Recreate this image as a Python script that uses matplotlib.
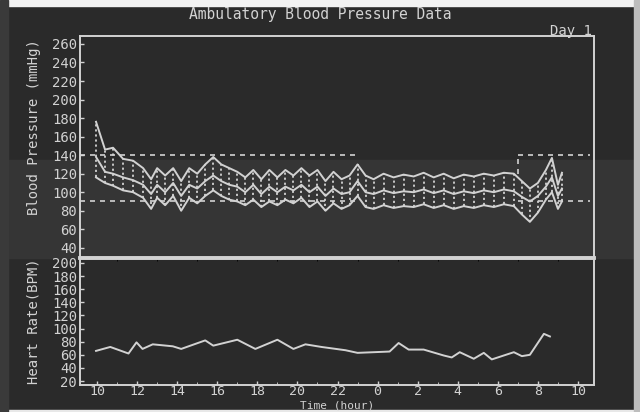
import matplotlib
matplotlib.use("Agg")
import matplotlib.pyplot as plt
from matplotlib.patches import Rectangle

# ---- data ----
bp_time = [9.95, 10.4, 10.8, 11.3, 11.8, 12.3, 12.7, 13.0, 13.4, 13.8, 14.2, 14.6, 15.0,
           15.4, 15.8, 16.2, 16.6, 17.0, 17.4, 17.8, 18.2, 18.6, 19.0, 19.4, 19.8, 20.2,
           20.6, 21.0, 21.4, 21.8, 22.2, 22.6, 23.0, 23.4, 23.8, 24.3, 24.8, 25.3, 25.8,
           26.3, 26.8, 27.3, 27.8, 28.3, 28.8, 29.3, 29.8, 30.3, 30.8, 31.2, 31.6, 32.0,
           32.4, 32.7, 33.0, 33.2]
systolic = [176, 146, 148, 136, 134, 126, 114, 126, 118, 126, 112, 126, 120,
            130, 138, 130, 126, 122, 116, 124, 114, 124, 116, 124, 118, 126,
            118, 124, 112, 122, 114, 118, 130, 118, 114, 120, 116, 119, 117,
            121, 116, 120, 115, 119, 117, 120, 118, 121, 120, 112, 104, 110,
            124, 137, 108, 121]
mean_bp = [138, 122, 120, 116, 113, 108, 98, 108, 100, 110, 96, 108, 104,
           112, 118, 112, 108, 106, 100, 108, 98, 106, 100, 106, 102, 108,
           100, 106, 96, 104, 98, 100, 112, 100, 98, 102, 99, 101, 100,
           103, 99, 102, 98, 101, 99, 102, 100, 103, 101, 95, 90, 96,
           106, 116, 96, 104]
diastolic = [116, 110, 107, 102, 100, 94, 82, 94, 86, 96, 80, 94, 88,
             96, 102, 96, 92, 90, 86, 92, 84, 90, 86, 92, 88, 94,
             84, 90, 80, 88, 82, 86, 96, 84, 82, 86, 83, 85, 84,
             87, 83, 86, 82, 85, 83, 86, 84, 87, 85, 76, 68, 78,
             92, 100, 82, 90]

hr_time = [9.95, 10.66, 11.57, 11.97, 12.27, 12.78, 13.78, 14.2, 15.4, 15.8, 17.0,
           17.9, 19.0, 19.8, 20.4, 21.2, 22.4, 23.0, 23.8, 24.6, 25.05, 25.55,
           26.3, 27.3, 27.7, 28.1, 28.8, 29.3, 29.7, 30.3, 30.8, 31.2, 31.6,
           32.3, 32.6]
heart_rate = [66, 72, 62, 79, 69, 76, 73, 69, 82, 74, 83, 69, 83, 69, 76, 72, 67,
              63, 64, 65, 78, 68, 68, 59, 56, 64, 54, 63, 53, 59, 64, 58, 60,
              92, 88]

x_ticks = [10, 12, 14, 16, 18, 20, 22, 24, 26, 28, 30, 32, 34]
x_labels = ["10", "12", "14", "16", "18", "20", "22", "0", "2", "4", "6", "8", "10"]
bp_ticks = list(range(40, 261, 20))
hr_ticks = list(range(20, 201, 20))

# ---- style ----
BG = "#2a2a2a"
FG = "#d2d2d2"
mono = ["DejaVu Sans Mono"]
plt.rcParams["font.family"] = mono

fig = plt.figure(figsize=(6.4, 4.12), dpi=100, facecolor=BG)
W, H = 640.0, 412.0


def strip(x, y, w, h, c):
    fig.patches.append(Rectangle((x / W, 1 - (y + h) / H), w / W, h / H,
                                 transform=fig.transFigure, color=c, zorder=-5))


# scan artefacts: white top strip, light right strip, lighter band
strip(0, 0, 640, 6, "#f2f2f2")
strip(0, 410, 640, 2, "#e8e8e8")
strip(0, 160, 640, 98, "#353535")
strip(634, 0, 6, 412, "#bdbdbd")
strip(0, 0, 8, 412, "#3a3a3a")

left, right = 80 / W, 594 / W
bp_top, split, hr_bot = 1 - 36 / H, 1 - 258 / H, 1 - 385 / H
ax1 = fig.add_axes([left, split, right - left, bp_top - split])
ax2 = fig.add_axes([left, hr_bot, right - left, split - hr_bot], sharex=ax1)

for ax in (ax1, ax2):
    ax.set_facecolor("none")
    for s in ax.spines.values():
        s.set_color(FG)
        s.set_linewidth(1.4)
    ax.tick_params(colors=FG, labelsize=10, length=3, width=1, direction="in",
                   pad=2)

ax1.spines["bottom"].set_linewidth(2.6)
ax2.spines["top"].set_linewidth(2.6)

x0, x1 = 9.15, 34.8
ax1.set_xlim(x0, x1)
ax1.set_ylim(29, 268.6)
ax2.set_ylim(14, 207.6)

# BP data
ax1.vlines(bp_time, diastolic, systolic, colors=FG, linestyles=(0, (1.2, 1.6)),
           linewidth=1.3)
ax1.plot(bp_time, systolic, color=FG, lw=1.4)
ax1.plot(bp_time, mean_bp, color=FG, lw=1.4)
ax1.plot(bp_time, diastolic, color=FG, lw=1.4)

# threshold lines (day periods)
dash = (0, (3, 3))
for lo, hi in [(x0, 23.0), (31.0, 34.6)]:
    ax1.hlines([140, 90], lo, hi, colors=FG, linestyles=dash, linewidth=1.2)
ax1.vlines([31.0], 120, 140, colors=FG, linestyles=dash, linewidth=1.2)

ax1.set_yticks(bp_ticks)
ax1.set_yticklabels([str(v) for v in bp_ticks])
ax1.tick_params(axis="x", labelbottom=False, bottom=False)

# HR data
ax2.plot(hr_time, heart_rate, color=FG, lw=1.4)
ax2.set_yticks(hr_ticks)
ax2.set_yticklabels([str(v) for v in hr_ticks])
ax2.set_xticks(x_ticks)
ax2.set_xticklabels(x_labels)
ax2.set_xticks(range(10, 35), minor=True)
ax2.tick_params(axis="x", which="minor", colors=FG, length=2, direction="in")
ax2.tick_params(axis="x", which="major", pad=0, labelsize=9.5)

ax1.set_ylabel("Blood Pressure (mmHg)", color=FG, fontsize=10)
ax2.set_ylabel("Heart Rate(BPM)", color=FG, fontsize=10)
ax1.yaxis.set_label_coords(-0.076, 0.59)
ax2.yaxis.set_label_coords(-0.076, 0.5)

fig.text(0.5, 1 - 15 / H, "Ambulatory Blood Pressure Data", color=FG,
         fontsize=10.5, ha="center", va="center")
fig.text(592 / W, 1 - 31 / H, "Day 1", color=FG, fontsize=10, ha="right",
         va="center")
fig.text(337 / W, 1 - 406 / H, "Time (hour)", color=FG, fontsize=8,
         ha="center", va="center")

fig.savefig("out.png", dpi=100, facecolor=BG)
